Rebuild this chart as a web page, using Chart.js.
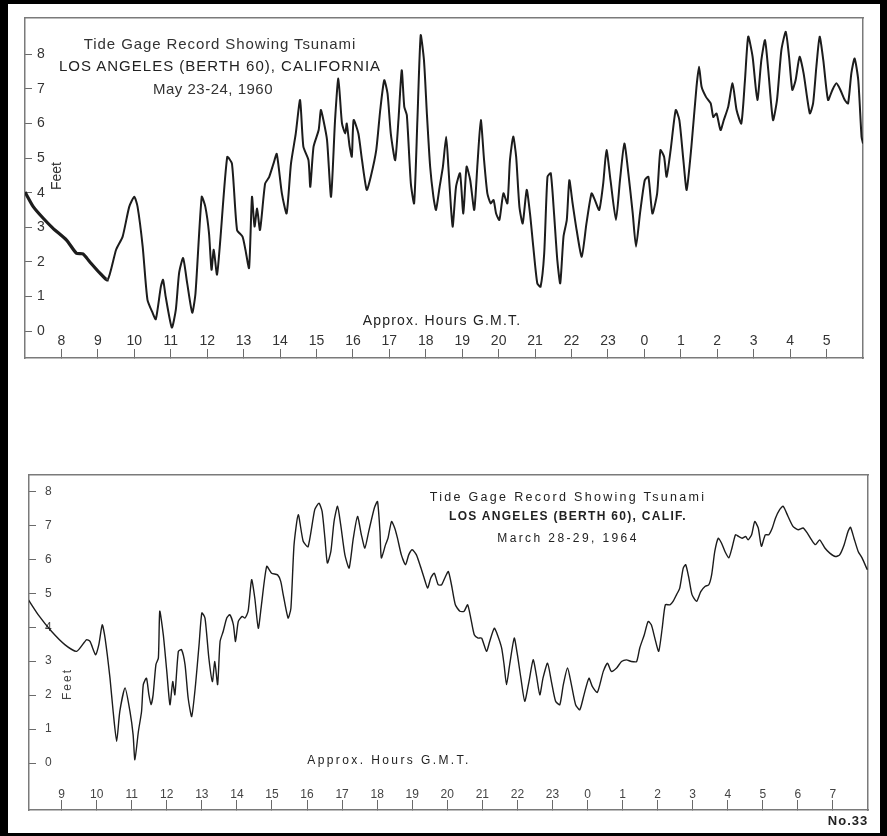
<!DOCTYPE html>
<html><head><meta charset="utf-8">
<script src="https://cdn.jsdelivr.net/npm/chart.js@4.4.1/dist/chart.umd.min.js"></script>
<style>
html,body{margin:0;padding:0;background:#000;width:887px;height:836px;overflow:hidden;}
#panel{position:absolute;left:8px;top:4px;width:872px;height:829px;background:#fff;}
.box{position:absolute;}
.t{position:absolute;white-space:nowrap;color:#2a2a2a;font-family:"Liberation Sans",Arial,sans-serif;transform:translate(-50%,-50%);line-height:1;}
.rot{transform:translate(-50%,-50%) rotate(-90deg);}
</style></head><body>
<div id="panel"></div>
<div class="box" style="left:20px;top:13px;width:848px;height:350px"><canvas id="c1"></canvas></div>
<div class="box" style="left:24px;top:470px;width:849px;height:345px"><canvas id="c2"></canvas></div>

<div class="t" style="left:220px;top:43px;font-size:15px;letter-spacing:0.9px;color:#333">Tide Gage Record Showing Tsunami</div>
<div class="t" style="left:220px;top:65px;font-size:15px;letter-spacing:1px;color:#222">LOS ANGELES (BERTH 60), CALIFORNIA</div>
<div class="t" style="left:213px;top:88px;font-size:15px;letter-spacing:0.5px;color:#333">May 23-24, 1960</div>
<div class="t rot" style="left:56px;top:176px;font-size:14px;color:#333">Feet</div>
<div class="t" style="left:442px;top:320px;font-size:14px;letter-spacing:1.2px;color:#222">Approx. Hours G.M.T.</div>

<div class="t" style="left:568px;top:497px;font-size:12.5px;letter-spacing:2.3px;color:#222">Tide Gage Record Showing Tsunami</div>
<div class="t" style="left:568px;top:516px;font-size:12px;letter-spacing:1.3px;font-weight:bold;color:#222">LOS ANGELES (BERTH 60), CALIF.</div>
<div class="t" style="left:568px;top:538px;font-size:12px;letter-spacing:2.4px;color:#222">March 28-29, 1964</div>
<div class="t rot" style="left:67px;top:684px;font-size:12px;letter-spacing:2px;color:#444">Feet</div>
<div class="t" style="left:389px;top:760px;font-size:12px;letter-spacing:2.4px;color:#222">Approx. Hours G.M.T.</div>
<div class="t" style="left:848px;top:820px;font-size:13px;letter-spacing:1px;font-weight:bold;color:#222">No.33</div>

<script>
// ---- 1960 record (hours since 0h May 23 GMT; 24+ = May 24) ----
const hours1960 = [7.0,7.23,7.5,7.77,8.14,8.41,8.59,8.77,9.05,9.27,9.5,9.68,9.86,10.0,10.09,10.23,10.36,10.5,10.59,10.73,10.79,10.86,11.03,11.14,11.23,11.34,11.45,11.59,11.68,11.85,11.95,12.05,12.12,12.18,12.27,12.36,12.55,12.68,12.82,12.97,13.05,13.15,13.23,13.3,13.37,13.45,13.59,13.7,13.82,13.91,14.05,14.18,14.3,14.43,14.55,
14.64,14.78,14.83,14.92,15.06,15.12,15.19,15.29,15.4,15.51,15.6,15.7,15.79,15.83,15.91,15.97,16.02,16.15,16.25,16.38,16.49,16.64,16.75,16.86,16.95,17.04,17.16,17.25,17.34,17.41,17.48,17.59,17.68,17.77,17.86,17.95,18.03,18.12,18.21,18.28,18.38,18.47,18.56,18.62,18.69,18.74,18.83,18.94,19.03,19.12,19.22,19.33,19.42,19.51,19.6,19.69,19.78,19.86,19.93,20.02,20.13,20.24,20.31,20.4,20.48,20.57,20.66,20.77,20.86,20.95,21.06,21.15,21.25,21.34,21.43,21.52,21.61,21.69,21.78,21.87,21.94,22.03,22.14,22.28,
22.41,22.55,22.64,22.76,22.87,22.96,23.07,23.22,23.33,23.45,23.56,23.68,23.77,23.88,24.01,24.11,24.22,24.35,24.44,24.54,24.61,24.72,24.86,24.96,25.07,25.16,25.29,25.43,25.5,25.57,25.69,25.82,25.89,25.98,26.09,26.18,26.3,26.42,26.53,26.66,26.76,26.85,26.97,27.1,27.21,27.31,27.4,27.53,27.64,27.76,27.88,27.97,28.06,28.15,28.26,28.37,28.54,28.63,28.72,28.81,28.91,29.04,29.16,29.27,29.38,29.5,29.59,29.68,29.77,29.87,29.96,30.0];
const feet1960 = [4.02,3.59,3.26,2.97,2.63,2.25,2.23,2.01,1.68,1.48,2.35,2.73,3.59,3.88,3.59,2.44,0.91,0.53,0.34,1.29,1.48,1.0,0.1,0.62,1.68,2.11,1.39,0.53,1.1,3.88,3.59,2.83,1.77,2.35,1.63,2.63,5.03,4.84,2.92,2.73,2.35,1.82,3.88,3.02,3.54,2.92,4.26,4.45,4.84,5.12,3.98,3.4,4.84,5.7,6.68,
5.33,4.94,4.17,5.33,5.81,6.39,6.1,5.52,3.88,6.1,7.3,6.0,5.71,6.0,5.33,5.04,6.1,5.71,4.94,4.08,4.46,5.23,6.39,7.25,6.87,5.71,4.94,6.1,7.54,6.48,6.24,4.27,3.69,6.1,8.55,7.83,6.29,4.75,3.88,3.5,4.17,4.75,5.62,4.75,3.59,3.02,4.17,4.56,3.4,4.75,4.36,3.5,4.85,6.1,4.94,3.98,3.69,3.79,3.4,3.21,3.98,3.69,4.94,5.62,5.04,3.59,3.11,4.08,3.4,2.44,1.38,1.28,2.24,4.46,4.56,3.4,2.05,1.38,2.73,3.21,4.36,3.69,2.92,2.15,
3.11,3.98,3.79,3.5,4.27,5.23,4.36,3.21,4.36,5.42,4.56,3.4,2.44,3.4,4.36,4.46,3.4,3.98,5.23,5.04,4.46,5.23,6.39,6.1,4.94,4.08,5.33,7.06,7.64,7.06,6.77,6.58,6.19,6.29,5.81,6.1,6.48,7.16,6.39,6.0,7.25,8.51,7.93,6.68,7.83,8.41,7.54,6.1,6.68,8.12,8.65,7.93,6.97,7.25,7.93,7.45,6.29,6.58,7.64,8.51,7.83,6.68,6.97,7.16,6.97,6.68,6.58,7.45,7.88,7.25,5.62,5.42];
const tickHours1960 = [8,9,10,11,12,13,14,15,16,17,18,19,20,21,22,23,24,25,26,27,28,29];
const tickLabels1960 = ['8','9','10','11','12','13','14','15','16','17','18','19','20','21','22','23','0','1','2','3','4','5'];

// ---- 1964 record (hours since 0h March 28 GMT; 24+ = March 29) ----
const hours1964 = [8.05,8.33,8.71,9.1,9.43,9.71,9.81,9.97,10.06,10.16,10.24,10.38,10.47,10.57,10.66,10.81,10.95,11.04,11.09,11.19,11.28,11.33,11.42,11.49,11.55,11.61,11.69,11.76,11.8,11.9,12.0,12.09,12.17,12.23,12.33,12.42,12.52,12.61,12.71,12.82,12.92,13.0,13.09,13.2,13.3,13.37,13.45,13.52,13.61,13.71,13.8,13.9,13.96,14.04,14.15,14.23,14.32,14.42,14.51,14.61,14.7,14.85,14.99,15.16,15.25,15.32,15.46,15.54,15.63,15.75,15.89,
16.03,16.22,16.34,16.43,16.51,16.58,16.68,16.77,16.87,16.96,17.08,17.2,17.32,17.44,17.55,17.65,17.76,17.92,18.01,18.08,18.12,18.24,18.31,18.41,18.5,18.58,18.69,18.81,18.9,19.0,19.12,19.25,19.34,19.44,19.53,19.63,19.74,19.84,19.93,20.03,20.12,20.23,20.36,20.48,20.58,20.67,20.77,20.88,20.98,21.12,21.21,21.34,21.43,21.55,21.62,21.69,21.78,21.91,22.0,22.1,22.21,22.33,22.45,22.54,22.64,22.73,22.86,22.97,23.09,23.21,23.31,23.43,23.54,23.66,23.78,23.9,24.04,24.14,24.28,
24.45,24.57,24.68,24.83,24.97,25.11,25.25,25.4,25.49,25.62,25.73,25.82,25.92,26.03,26.13,26.22,26.35,26.44,26.54,26.63,26.73,26.8,26.89,26.98,27.11,27.23,27.35,27.46,27.54,27.63,27.73,27.82,27.92,28.03,28.12,28.22,28.31,28.41,28.51,28.58,28.68,28.77,28.87,28.96,29.07,29.17,29.27,29.36,29.48,29.58,29.72,29.86,30.01,30.15,30.27,30.39,30.5,30.62,30.77,30.91,31.07,31.19,31.32,31.43,31.5,31.6,31.72,31.83,31.98];
const feet1964 = [4.81,4.37,3.88,3.48,3.29,3.63,3.58,3.19,3.48,4.07,3.68,2.5,1.52,0.64,1.52,2.21,1.52,0.83,0.1,0.93,1.52,2.31,2.5,2.01,1.72,2.01,2.9,3.09,4.47,3.78,2.7,1.72,2.4,2.01,3.29,3.34,2.9,1.91,1.37,2.31,3.48,4.42,4.27,3.09,2.4,2.99,2.31,3.58,3.88,4.27,4.37,4.07,3.58,4.17,4.32,4.27,4.47,5.4,4.86,3.97,4.66,5.79,5.59,5.54,5.35,4.96,4.27,4.56,6.43,7.31,6.53,
6.37,7.46,7.65,7.41,6.62,5.89,6.23,7.11,7.56,7.02,6.13,5.74,6.62,7.26,6.72,6.33,6.82,7.51,7.7,6.82,6.04,6.43,6.62,7.11,6.92,6.62,6.13,5.84,6.13,6.28,6.13,5.74,5.45,5.15,5.45,5.59,5.25,5.25,5.45,5.64,5.25,4.66,4.47,4.47,4.66,4.27,3.78,3.68,3.68,3.29,3.58,3.97,3.78,3.39,2.9,2.31,2.9,3.68,3.19,2.5,1.82,2.4,3.04,2.6,2.01,2.5,2.94,2.4,1.82,1.72,2.31,2.8,2.31,1.72,1.57,2.01,2.5,2.25,2.08,
2.7,2.94,2.7,2.8,2.99,3.04,2.99,2.99,3.39,3.78,4.17,4.07,3.68,3.29,3.97,4.66,4.66,4.76,4.96,5.15,5.74,5.84,5.45,4.96,4.76,5.05,5.2,5.25,5.54,6.23,6.62,6.48,6.23,6.04,6.33,6.72,6.67,6.62,6.67,6.57,6.72,7.11,6.92,6.38,6.72,6.72,6.92,7.21,7.46,7.56,7.26,6.97,6.87,6.92,6.77,6.57,6.43,6.57,6.33,6.18,6.08,6.13,6.43,6.82,6.94,6.62,6.23,6.04,5.69];
const tickHours1964 = [9,10,11,12,13,14,15,16,17,18,19,20,21,22,23,24,25,26,27,28,29,30,31];
const tickLabels1964 = ['9','10','11','12','13','14','15','16','17','18','19','20','21','22','23','0','1','2','3','4','5','6','7'];
const feetTicks = [0,1,2,3,4,5,6,7,8];

Chart.defaults.font.family = '"Liberation Sans", Arial, sans-serif';

function noPad(s){ s.paddingTop = 0; s.paddingBottom = 0; s.paddingLeft = 0; s.paddingRight = 0; }

function makeChart(id, hours, feet, cfg) {
  const frame = {display:true, color:'#7a7a7a', width:1.5};
  return new Chart(document.getElementById(id), {
    type:'line',
    data:{datasets:[{
      data: hours.map((h,i)=>({x:h, y:feet[i]})),
      borderColor:'#1c1c1c', borderWidth:cfg.lw, pointRadius:0, tension:0.2, fill:false,
      segment: cfg.segment
    }]},
    options:{
      responsive:true, maintainAspectRatio:false, animation:false,
      layout:{padding:5, autoPadding:false},
      plugins:{legend:{display:false}, tooltip:{enabled:false}},
      scales:{
        x:{type:'linear', position:'bottom', min:cfg.xmin, max:cfg.xmax,
          afterBuildTicks:s=>{ s.ticks = cfg.xTicks.map(v=>({value:v})); },
          afterFit:s=>{ s.height = 0; noPad(s); },
          ticks:{mirror:true, padding:cfg.xPad, autoSkip:false, maxRotation:0, minRotation:0, color:cfg.tc,
            font:{size:cfg.fs}, callback:v=>cfg.xLabels[cfg.xTicks.indexOf(v)]},
          grid:{drawOnChartArea:false, drawTicks:true, tickLength:cfg.xTick, color:'#6a6a6a', lineWidth:1},
          border:frame},
        y:{type:'linear', position:'left', min:cfg.ymin, max:cfg.ymax,
          afterBuildTicks:s=>{ s.ticks = feetTicks.map(v=>({value:v})); },
          afterFit:s=>{ s.width = 0; noPad(s); },
          ticks:{mirror:true, padding:cfg.yPad, color:cfg.tc, font:{size:cfg.fs}, callback:v=>String(v)},
          grid:{drawOnChartArea:false, drawTicks:true, tickLength:-7, color:'#6a6a6a', lineWidth:1},
          border:frame},
        x2:{type:'linear', position:'top', min:cfg.xmin, max:cfg.xmax,
          afterFit:s=>{ s.height = 0; noPad(s); },
          ticks:{display:false}, grid:{drawOnChartArea:false, drawTicks:false}, border:frame},
        y2:{type:'linear', position:'right', min:cfg.ymin, max:cfg.ymax,
          afterFit:s=>{ s.width = 0; noPad(s); },
          ticks:{display:false}, grid:{drawOnChartArea:false, drawTicks:false}, border:frame}
      }
    }
  });
}

makeChart('c1', hours1960, feet1960, {
  xmin:7, xmax:30, ymin:-0.78, ymax:9.05, xTicks:tickHours1960, xLabels:tickLabels1960,
  fs:14, xPad:8, xTick:-9, yPad:12, lw:2, tc:'#333',
  segment:{borderWidth:ctx=> ctx.p0.parsed.x < 9.2 ? 3.2 : 2}
});
makeChart('c2', hours1964, feet1964, {
  xmin:8.07, xmax:32, ymin:-1.38, ymax:8.48, xTicks:tickHours1964, xLabels:tickLabels1964,
  fs:12, xPad:8, xTick:-10, yPad:16, lw:1.4, tc:'#444',
  segment:{}
});
</script>
</body></html>
